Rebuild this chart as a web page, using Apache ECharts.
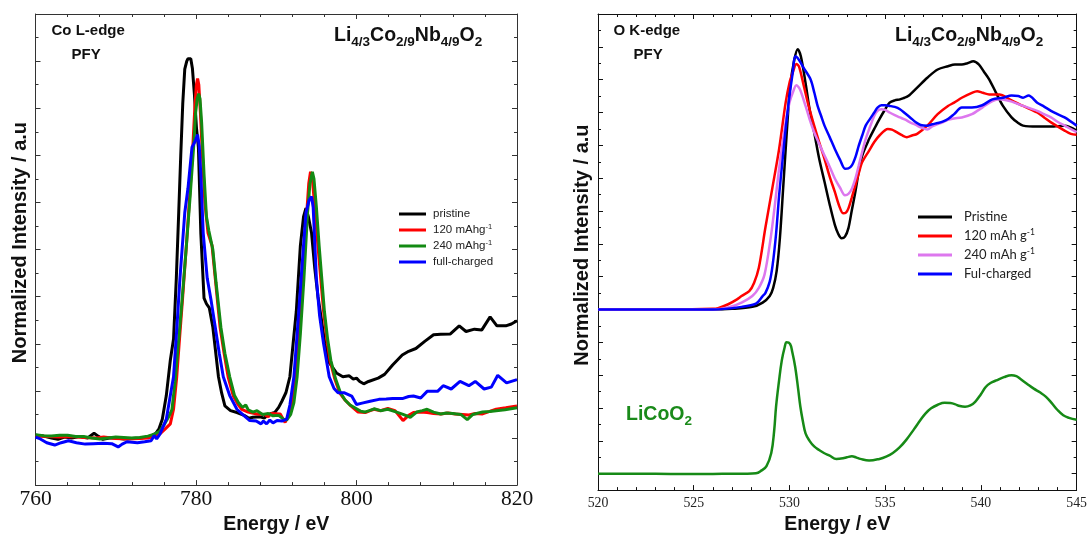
<!DOCTYPE html>
<html>
<head>
<meta charset="utf-8">
<script src="https://cdn.jsdelivr.net/npm/echarts@6/dist/echarts.min.js"></script>
<style>
    html, body { margin: 0; padding: 0; background: #fff; }
    #main { width: 1090px; height: 540px; }
</style>
</head>
<body>
<div id="main"></div>
<script>
// Co L-edge PFY (energy eV, intensity a.u.)
var coPristine = [[760,1.06],[761,1.04],[762,1.0],[762.8,0.97],[763.6,1.02],[764.5,1.0],[765.5,1.03],[766.5,1.0],[767.3,1.1],[767.8,1.04],[768.4,0.97],[769.2,1.0],[770,1.0],[771,0.98],[772,0.99],[773,1.0],[774,1.02],[774.6,1.06],[775,1.1],[775.4,1.2],[775.8,1.4],[776.3,1.9],[776.8,2.65],[777.2,3.1],[777.55,4.4],[777.85,5.8],[778.1,7.0],[778.35,8.1],[778.6,8.83],[778.85,9.0],[779.0,9.05],[779.15,9.08],[779.35,9.05],[779.55,8.85],[779.8,8.3],[780.05,7.6],[780.3,7.17],[780.6,5.35],[781.0,3.97],[781.3,3.85],[781.66,3.76],[782.1,3.35],[782.8,2.3],[783.2,1.95],[783.6,1.68],[784.3,1.58],[785.1,1.54],[786,1.48],[786.6,1.42],[787.1,1.44],[788,1.45],[788.5,1.42],[789,1.5],[789.8,1.54],[790.3,1.65],[790.7,1.78],[791.2,1.96],[791.7,2.3],[792.1,3.0],[792.5,3.69],[793.0,5.07],[793.4,5.7],[793.7,5.88],[794.0,5.7],[794.4,5.35],[794.8,4.6],[795.2,4.0],[795.6,3.55],[796.06,3.0],[796.6,2.6],[797.5,2.38],[798.3,2.3],[799.1,2.32],[799.6,2.25],[800.0,2.27],[800.4,2.2],[800.9,2.15],[801.5,2.2],[802.7,2.27],[803.5,2.35],[804.5,2.55],[805.7,2.76],[806.5,2.84],[807.4,2.9],[808.5,3.05],[809.6,3.19],[810.5,3.2],[811.7,3.21],[812.8,3.38],[813.65,3.26],[814.7,3.31],[815.6,3.29],[816.65,3.57],[817.5,3.38],[818.6,3.38],[819.3,3.42],[820,3.49]];
var co120 = [[760,1.04],[761.5,1.03],[763,1.02],[764.5,1.03],[766,1.01],[767.5,1.0],[768.5,1.02],[770,0.99],[771.5,0.98],[773,0.99],[774,1.0],[775,1.04],[775.6,1.1],[776.2,1.2],[776.8,1.3],[777.2,1.61],[777.6,2.3],[777.9,3.0],[778.3,3.9],[778.8,5.08],[779.2,6.1],[779.6,7.17],[779.85,8.0],[780.05,8.5],[780.2,8.63],[780.35,8.5],[780.55,7.9],[780.8,7.0],[781.1,6.0],[781.5,5.35],[782.0,5.08],[782.4,4.39],[783.0,3.35],[783.5,2.8],[784.0,2.3],[784.65,1.89],[785.2,1.72],[785.7,1.61],[786.5,1.55],[787.55,1.51],[788.5,1.5],[789,1.45],[789.4,1.52],[790.5,1.51],[791.1,1.33],[791.6,1.5],[792.0,1.8],[792.45,2.3],[792.9,3.3],[793.3,4.39],[793.8,5.78],[794.05,6.4],[794.27,6.65],[794.5,6.5],[794.8,5.9],[795.2,5.07],[795.9,3.69],[796.3,3.1],[796.7,2.65],[797.3,2.25],[797.9,1.96],[798.6,1.8],[799.3,1.68],[800.2,1.55],[801.1,1.54],[801.7,1.58],[802.2,1.61],[803,1.58],[803.9,1.63],[804.8,1.58],[805.8,1.37],[806.5,1.48],[807.1,1.54],[808,1.55],[808.8,1.54],[809.6,1.52],[810.5,1.51],[811.4,1.53],[812.3,1.51],[813.2,1.5],[814,1.49],[814.8,1.52],[815.7,1.51],[816.5,1.56],[817.4,1.61],[818.6,1.64],[820,1.68]];
var co240 = [[760,1.07],[761,1.05],[762,1.04],[763,1.06],[764,1.06],[765,1.03],[766,1.03],[767,1.0],[768,0.98],[769,1.0],[770,1.02],[771,1.01],[772,1.0],[773,1.01],[774,1.04],[774.8,1.08],[775.5,1.15],[776.1,1.3],[776.6,1.45],[777.0,1.6],[777.4,2.2],[777.8,3.0],[778.3,4.0],[778.8,5.08],[779.3,6.2],[779.7,7.17],[779.95,7.9],[780.15,8.2],[780.33,8.31],[780.5,8.2],[780.7,7.7],[781.0,6.6],[781.3,5.7],[781.6,5.4],[782.1,5.0],[782.5,4.3],[783.1,3.35],[783.6,2.8],[784.2,2.3],[784.8,1.9],[785.3,1.75],[785.8,1.65],[786.2,1.7],[786.5,1.6],[787.1,1.55],[787.6,1.58],[788.3,1.5],[789,1.52],[789.6,1.47],[790.3,1.48],[790.9,1.4],[791.3,1.38],[791.8,1.5],[792.2,1.75],[792.6,2.3],[793.0,3.2],[793.45,4.39],[793.9,5.78],[794.2,6.4],[794.5,6.65],[794.7,6.5],[795.0,5.9],[795.35,5.07],[796.0,3.69],[796.4,3.1],[796.8,2.65],[797.4,2.25],[798.0,1.96],[798.6,1.8],[799.2,1.7],[800.0,1.62],[800.5,1.57],[801,1.55],[801.6,1.58],[802.2,1.62],[803,1.58],[803.9,1.61],[805,1.55],[805.8,1.5],[806.7,1.44],[807.5,1.55],[808.2,1.58],[808.8,1.61],[809.6,1.55],[810.5,1.51],[811.2,1.53],[812,1.52],[813.0,1.5],[813.8,1.39],[814.5,1.5],[815.2,1.53],[815.7,1.55],[816.6,1.56],[817.4,1.58],[818.5,1.6],[820,1.64]];
var coCharged = [[760,1.02],[760.6,0.98],[761.4,0.9],[762.4,0.85],[763.2,0.9],[764.1,0.94],[765.1,0.9],[766.2,0.87],[767.2,0.88],[768.4,0.89],[769.5,0.88],[770.3,0.81],[770.8,0.87],[771.4,0.92],[772.7,0.9],[773.6,0.92],[774.4,0.94],[774.8,1.05],[775.1,0.98],[775.5,1.08],[775.8,1.2],[776.3,1.4],[776.8,1.9],[777.2,2.3],[777.6,3.3],[778.0,4.39],[778.6,5.78],[779.0,6.3],[779.5,7.17],[779.9,7.3],[780.2,7.44],[780.4,7.2],[780.6,6.6],[780.9,5.35],[781.4,4.39],[781.9,3.9],[782.4,3.35],[782.9,2.8],[783.4,2.3],[784.2,1.9],[785.1,1.61],[785.8,1.5],[786.7,1.37],[787.5,1.36],[788.1,1.3],[788.4,1.36],[788.8,1.3],[789.2,1.38],[789.6,1.32],[790.1,1.37],[790.7,1.36],[791.3,1.4],[791.7,1.7],[792.2,2.3],[792.6,3.2],[793.1,4.39],[793.7,5.78],[794.1,6.05],[794.4,6.125],[794.6,5.9],[795.0,4.39],[795.4,3.6],[795.9,3.0],[796.6,2.3],[797.2,2.05],[797.7,1.96],[798.5,1.96],[799.4,1.89],[800.0,1.71],[800.7,1.74],[801.7,1.78],[802.8,1.82],[803.7,1.83],[804.5,1.84],[805.8,1.84],[806.5,1.88],[807.1,1.89],[808,1.85],[808.8,1.99],[810.1,1.99],[810.8,2.11],[811.8,2.04],[812.9,2.20],[814,2.11],[814.8,2.20],[815.9,2.04],[816.8,2.08],[817.6,2.33],[818.7,2.17],[820,2.24]];

// O K-edge PFY
var oPristine = [[520,5.5],[522,5.5],[524,5.5],[526,5.5],[527,5.52],[528.06,5.58],[528.6,5.71],[528.97,5.91],[529.15,6.16],[529.33,6.67],[529.5,7.67],[529.68,9.28],[529.86,10.9],[530.04,12.31],[530.25,13.1],[530.43,13.43],[530.6,13.2],[530.84,12.4],[531.05,11.6],[531.29,10.9],[531.55,10.1],[531.83,9.39],[532.1,8.7],[532.37,8.08],[532.55,7.8],[532.72,7.67],[532.9,7.72],[533.08,7.98],[533.25,8.5],[533.44,9.08],[533.62,9.7],[533.8,10.19],[534.16,10.69],[534.43,11.0],[534.7,11.3],[535.0,11.6],[535.23,11.8],[535.5,11.87],[535.77,11.9],[536.0,11.95],[536.2,12.0],[536.67,12.26],[537.2,12.56],[537.74,12.81],[538.28,12.91],[538.64,12.96],[539.0,12.96],[539.3,13.0],[539.6,13.06],[539.9,12.96],[540.15,12.75],[540.43,12.51],[540.79,12.1],[541.15,11.7],[541.6,11.35],[541.9,11.2],[542.2,11.1],[542.94,11.07],[543.66,11.07],[544.37,11.1],[545,10.95]];
var o120 = [[520,5.5],[524,5.5],[526,5.52],[526.27,5.54],[526.8,5.66],[527.26,5.81],[527.5,5.91],[527.9,6.06],[528.15,6.31],[528.4,6.77],[528.74,7.98],[529.1,9.18],[529.46,10.39],[529.8,11.8],[530.0,12.4],[530.17,12.71],[530.36,12.98],[530.5,12.9],[530.75,12.31],[531.0,11.7],[531.29,11.1],[531.55,10.6],[531.83,10.09],[532.1,9.55],[532.37,9.08],[532.6,8.65],[532.8,8.43],[532.95,8.45],[533.08,8.58],[533.25,8.9],[533.44,9.28],[533.62,9.65],[533.8,9.99],[534.16,10.34],[534.43,10.6],[534.7,10.8],[535.14,11.0],[535.35,10.98],[535.6,10.9],[535.9,10.8],[536.13,10.75],[536.4,10.8],[536.67,10.85],[537.2,11.1],[537.74,11.45],[538.28,11.7],[538.6,11.8],[539.0,11.95],[539.53,12.1],[539.8,12.15],[540.1,12.1],[540.43,12.05],[540.97,12.05],[541.5,11.9],[542.2,11.7],[542.94,11.5],[543.3,11.35],[543.66,11.2],[544.37,10.95],[544.7,10.85],[545,10.82]];
var o240 = [[520,5.5],[524,5.5],[526,5.5],[526.8,5.56],[527.5,5.71],[528.06,5.91],[528.4,6.16],[528.7,6.57],[529.0,7.6],[529.2,8.5],[529.46,9.79],[529.8,11.2],[530.0,11.8],[530.17,12.1],[530.36,12.33],[530.55,12.2],[530.84,11.7],[531.05,11.3],[531.29,10.9],[531.55,10.55],[531.83,10.19],[532.1,9.85],[532.37,9.49],[532.65,9.2],[532.9,8.98],[533.08,9.02],[533.26,9.18],[533.45,9.5],[533.62,9.89],[533.8,10.3],[533.98,10.69],[534.2,11.05],[534.43,11.4],[534.6,11.55],[534.8,11.6],[535.0,11.58],[535.23,11.5],[535.5,11.42],[535.77,11.35],[536.05,11.28],[536.3,11.2],[536.6,11.12],[536.85,11.05],[537.2,10.98],[537.45,11.08],[537.74,11.15],[538.0,11.2],[538.28,11.28],[538.6,11.32],[539.0,11.35],[539.53,11.45],[540.07,11.65],[540.6,11.85],[540.97,11.9],[541.5,11.85],[541.85,11.78],[542.2,11.7],[542.94,11.55],[543.3,11.45],[543.66,11.35],[544.0,11.22],[544.37,11.1],[545,10.9]];
var oCharged = [[520,5.5],[524,5.5],[526,5.5],[527.5,5.58],[528.25,5.68],[528.6,5.91],[528.74,6.0],[528.97,6.35],[529.12,6.85],[529.3,7.8],[529.46,8.98],[529.63,10.0],[529.8,11.0],[530.0,12.0],[530.17,12.71],[530.3,13.21],[530.5,13.1],[530.75,12.85],[531.1,12.51],[531.3,12.1],[531.47,11.7],[531.65,11.4],[531.83,11.1],[532.1,10.75],[532.37,10.39],[532.65,10.05],[532.9,9.79],[533.08,9.8],[533.26,9.89],[533.45,10.15],[533.62,10.49],[533.8,10.8],[533.98,11.1],[534.2,11.3],[534.43,11.5],[534.6,11.65],[534.8,11.72],[535.0,11.72],[535.23,11.7],[535.5,11.67],[535.77,11.6],[536.05,11.47],[536.3,11.35],[536.6,11.2],[536.85,11.12],[537.2,11.1],[537.45,11.14],[537.74,11.18],[538.0,11.22],[538.28,11.3],[538.6,11.45],[539.0,11.65],[539.53,11.65],[540.07,11.72],[540.6,11.9],[541.15,11.95],[541.6,12.02],[541.95,12.0],[542.2,11.95],[542.49,12.02],[542.94,11.8],[543.3,11.68],[543.66,11.55],[544.0,11.45],[544.37,11.35],[545,11.1]];
var oLiCoO2 = [[520,0.5],[522,0.5],[524,0.49],[526,0.49],[527,0.5],[527.8,0.5],[528.25,0.51],[528.55,0.6],[528.8,0.73],[529.05,1.13],[529.2,1.8],[529.3,2.54],[529.45,3.3],[529.6,3.95],[529.75,4.35],[529.85,4.5],[530.03,4.45],[530.15,4.2],[530.3,3.75],[530.45,3.1],[530.57,2.54],[530.7,2.1],[530.84,1.73],[531.05,1.5],[531.29,1.33],[531.55,1.22],[531.8,1.13],[532.1,1.05],[532.45,0.95],[532.8,0.97],[533.0,1.0],[533.26,1.03],[533.5,0.99],[533.7,0.95],[534.16,0.9],[534.7,0.95],[535.05,1.02],[535.4,1.13],[535.75,1.3],[536.1,1.53],[536.5,1.85],[536.85,2.14],[537.1,2.33],[537.4,2.49],[537.75,2.6],[538.1,2.66],[538.4,2.65],[538.63,2.62],[538.9,2.56],[539.17,2.54],[539.45,2.58],[539.7,2.69],[540.0,2.92],[540.25,3.14],[540.5,3.26],[540.8,3.34],[541.2,3.44],[541.6,3.5],[541.85,3.47],[542.05,3.39],[542.4,3.24],[542.76,3.09],[543.1,2.97],[543.4,2.84],[543.7,2.65],[544.0,2.44],[544.3,2.28],[544.6,2.2],[545,2.14]];

var coNames = ['pristine', '120 mAhg-1', '240 mAhg-1', 'full-charged'];
var oNames = ['Pristine', '120 mAh g-1', '240 mAh g-1', 'Ful-charged'];

var SANS = 'Liberation Sans, Arial, sans-serif';
var SERIF = 'Liberation Serif, Times New Roman, serif';

var chart = echarts.init(document.getElementById('main'));

// 刻度轴(只画框和刻度)
function tickAxis(grid, pos, min, max, interval, split, color, extra) {
    var axis = {
        gridIndex: grid, type: 'value', position: pos,
        min: min, max: max, interval: interval,
        axisLine: { show: true, onZero: false, lineStyle: { color: color, width: 1 } },
        axisTick: { show: true, inside: true, length: 5, lineStyle: { color: color } },
        minorTick: { show: true, inside: true, splitNumber: split, length: 3, lineStyle: { color: color } },
        axisLabel: { show: false },
        splitLine: { show: false }
    };
    for (var k in extra) axis[k] = extra[k];
    return axis;
}

function supFmt(name) {
    return name.replace(/g-1$/, 'g{sup|-1}');
}

function line(name, data, color, width, xi, yi, smooth) {
    return {
        name: name, type: 'line', data: data, xAxisIndex: xi, yAxisIndex: yi,
        showSymbol: false, symbol: 'none', smooth: smooth,
        lineStyle: { color: color, width: width }, itemStyle: { color: color }
    };
}

// 化学式下标
function chem(size, subSize, color) {
    return {
        m: { fontFamily: SANS, fontWeight: 'bold', fontSize: size, lineHeight: size, verticalAlign: 'top', color: color },
        s: { fontFamily: SANS, fontWeight: 'bold', fontSize: subSize, lineHeight: size + 4, verticalAlign: 'bottom', color: color }
    };
}

var boldText = { fontFamily: SANS, fontWeight: 'bold', fontSize: 15, lineHeight: 17, color: '#111' };
var formula = '{m|Li}{s|4/3}{m|Co}{s|2/9}{m|Nb}{s|4/9}{m|O}{s|2}';

var option = {
    animation: false,
    backgroundColor: '#fff',
    grid: [
        { left: 35.5, top: 14, width: 481.5, height: 480 },
        { left: 598, top: 14, width: 480, height: 480 }
    ],
    title: [
        { text: 'Co L-edge', left: 51.5, top: 22.5, padding: 0, textStyle: boldText },
        { text: 'PFY', left: 71.5, top: 46.5, padding: 0, textStyle: boldText },
        { text: formula, left: 334, top: 25.5, padding: 0, textStyle: { rich: chem(19.5, 13.5, '#111') } },
        { text: 'O K-edge', left: 613.5, top: 22.5, padding: 0, textStyle: boldText },
        { text: 'PFY', left: 633.5, top: 46.5, padding: 0, textStyle: boldText },
        { text: formula, left: 895, top: 25.5, padding: 0, textStyle: { rich: chem(19.5, 13.5, '#111') } },
        { text: '{m|LiCoO}{s|2}', left: 626, top: 404.5, padding: 0, textStyle: { rich: chem(19.5, 13.5, '#1a8a1a') } }
    ],
    legend: [
        {
            data: coNames, left: 399, top: 207, orient: 'vertical', icon: 'rect',
            itemWidth: 27, itemHeight: 3, itemGap: 2, padding: 0,
            formatter: supFmt,
            textStyle: { fontFamily: SANS, fontSize: 11.5, color: '#222', lineHeight: 14, padding: [0, 0, 0, 2],
                rich: { sup: { fontFamily: SANS, fontSize: 7.5, lineHeight: 8, verticalAlign: 'top', color: '#222' } } }
        },
        {
            data: oNames, left: 918, top: 209, orient: 'vertical', icon: 'rect',
            itemWidth: 34, itemHeight: 3, itemGap: 3, padding: 0,
            formatter: supFmt,
            textStyle: { fontFamily: 'Lato, Open Sans, sans-serif', fontSize: 13, color: '#222', lineHeight: 16, padding: [0, 0, 0, 7],
                rich: { sup: { fontFamily: 'Lato, Open Sans, sans-serif', fontSize: 8.5, lineHeight: 9, verticalAlign: 'top', color: '#222' } } }
        }
    ],
    xAxis: [
        tickAxis(0, 'bottom', 760, 820, 20, 5, '#333', {
            name: 'Energy / eV', nameLocation: 'middle', nameGap: 27,
            nameTextStyle: { fontFamily: SANS, fontWeight: 'bold', fontSize: 19.5, lineHeight: 18, color: '#111' },
            axisLabel: { show: true, fontFamily: SERIF, fontSize: 21.5, color: '#111', margin: 3 }
        }),
        tickAxis(0, 'top', 760, 820, 20, 5, '#333', {}),
        tickAxis(1, 'bottom', 520, 545, 5, 5, '#111', {
            name: 'Energy / eV', nameLocation: 'middle', nameGap: 25,
            nameTextStyle: { fontFamily: SANS, fontWeight: 'bold', fontSize: 19.5, lineHeight: 18, color: '#111' },
            axisLabel: { show: true, fontFamily: SERIF, fontSize: 13.8, color: '#222', margin: 6 }
        }),
        tickAxis(1, 'top', 520, 545, 5, 5, '#111', {})
    ],
    yAxis: [
        tickAxis(0, 'left', 0, 10, 1, 2, '#333', {
            name: 'Normalized Intensity / a.u', nameLocation: 'middle', nameGap: 5.5, nameRotate: 90,
            nameTextStyle: { fontFamily: SANS, fontWeight: 'bold', fontSize: 20, lineHeight: 20, color: '#111', padding: [0, 0, 0, 14] }
        }),
        tickAxis(0, 'right', 0, 10, 1, 2, '#333', {}),
        tickAxis(1, 'left', 0, 14.5, 1, 2, '#111', {
            inverse: true,
            name: 'Normalized Intensity / a.u', nameLocation: 'middle', nameGap: 6, nameRotate: 90,
            nameTextStyle: { fontFamily: SANS, fontWeight: 'bold', fontSize: 20, lineHeight: 20, color: '#111', padding: [0, 0, 0, 14] }
        }),
        tickAxis(1, 'right', 0, 14.5, 1, 2, '#111', { inverse: true }),
        { gridIndex: 1, type: 'value', min: 0, max: 14.5, show: false }
    ],
    series: [
        line(coNames[0], coPristine, '#000000', 3, 0, 0, false),
        line(coNames[1], co120, '#ff0000', 3, 0, 0, false),
        line(coNames[2], co240, '#138a13', 3, 0, 0, false),
        line(coNames[3], coCharged, '#0000ff', 3, 0, 0, false),
        line(oNames[0], oPristine, '#000000', 2.5, 2, 4, 0.3),
        line(oNames[1], o120, '#ff0000', 2.5, 2, 4, 0.3),
        line(oNames[2], o240, '#dd77ee', 2.5, 2, 4, 0.3),
        line(oNames[3], oCharged, '#0000ff', 2.5, 2, 4, 0.3),
        line('LiCoO2', oLiCoO2, '#168a16', 2.5, 2, 4, 0.4)
    ]
};
chart.setOption(option);
</script>
</body>
</html>
